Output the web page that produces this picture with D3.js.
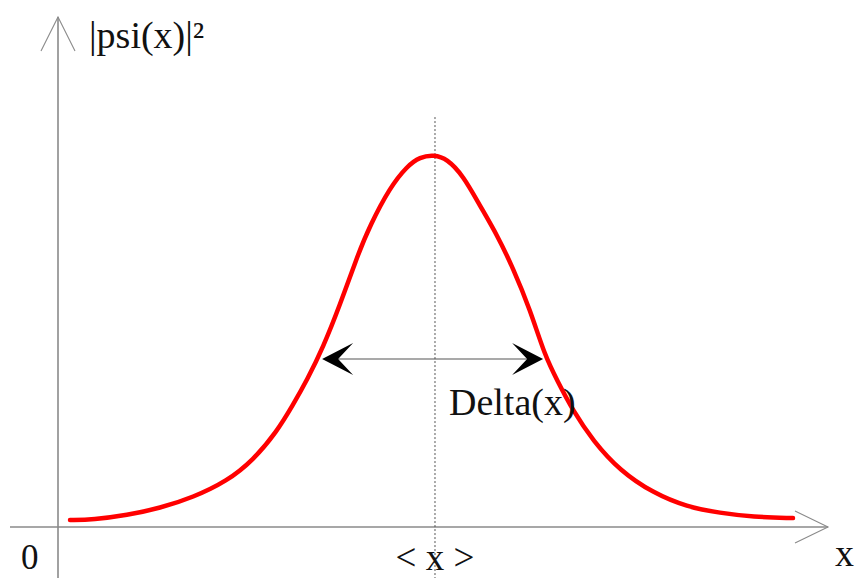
<!DOCTYPE html>
<html>
<head>
<meta charset="utf-8">
<script src="https://cdn.jsdelivr.net/npm/d3@7/dist/d3.min.js"></script>
<style>
  html, body { margin: 0; padding: 0; background: #fff; }
  svg { display: block; }
  text { font-family: "Liberation Serif", "Times New Roman", serif; fill: #111; }
</style>
</head>
<body>
<svg id="chart" width="855" height="578"></svg>
<script>
// ---- Data ----
const curveX = [0.156, 0.455, 0.896, 1.325, 1.753, 2.195, 2.532, 2.844, 3.052, 3.234, 3.442, 3.662, 3.883, 4.052, 4.312, 4.532, 4.700, 4.883, 5.052, 5.260, 5.481, 5.701, 5.909, 6.130, 6.325, 6.481, 6.688, 6.948, 7.299, 7.727, 8.169, 8.597, 9.026, 9.545];
const curveY = [0.019, 0.020, 0.032, 0.051, 0.080, 0.124, 0.180, 0.258, 0.330, 0.397, 0.485, 0.600, 0.730, 0.815, 0.918, 0.975, 1.000, 1.006, 0.995, 0.950, 0.868, 0.790, 0.700, 0.588, 0.462, 0.397, 0.314, 0.233, 0.152, 0.092, 0.054, 0.038, 0.027, 0.024];
const meanX = [4.896];
const meanTop = [1.108];
const deltaY = [0.454];
const deltaRange = [3.43, 6.30];
const labels = { yAxis: "|psi(x)|²", xAxis: "x", origin: "0", mean: "< x >", delta: "Delta(x)" };

// ---- Scales ----
const svg = d3.select("#chart");
const x = d3.scaleLinear().domain([0, 10]).range([58, 828]);
const y = d3.scaleLinear().domain([0, 1]).range([527, 157]);

const axisColor = "#8a8a8a";

// ---- Axes (arrows) ----
svg.append("line").attr("x1", 10).attr("x2", x(10)).attr("y1", y(0)).attr("y2", y(0))
  .attr("stroke", axisColor).attr("stroke-width", 1.6);
svg.append("polyline")
  .attr("points", [[x(10) - 33, y(0) - 16], [x(10), y(0)], [x(10) - 33, y(0) + 16]].join(" "))
  .attr("fill", "none").attr("stroke", axisColor).attr("stroke-width", 1.1);

svg.append("line").attr("x1", x(0)).attr("x2", x(0)).attr("y1", 17).attr("y2", 578)
  .attr("stroke", axisColor).attr("stroke-width", 1.6);
svg.append("polyline")
  .attr("points", [[x(0) - 17, 51], [x(0), 17], [x(0) + 17, 51]].join(" "))
  .attr("fill", "none").attr("stroke", axisColor).attr("stroke-width", 1.1);

// ---- Mean dotted line ----
svg.append("line")
  .attr("x1", x(meanX[0])).attr("x2", x(meanX[0]))
  .attr("y1", y(meanTop[0])).attr("y2", 578)
  .attr("stroke", "#555").attr("stroke-width", 1).attr("stroke-dasharray", "2,2");

// ---- Curve ----
const pts = curveX.map((d, i) => [d, curveY[i]]);
const line = d3.line().x(d => x(d[0])).y(d => y(d[1])).curve(d3.curveBasis);
svg.append("path").attr("d", line(pts))
  .attr("fill", "none").attr("stroke", "#f00").attr("stroke-width", 4.5)
  .attr("stroke-linecap", "round").attr("stroke-linejoin", "round");

// ---- Delta arrow ----
const ay = y(deltaY[0]);
const xl = x(deltaRange[0]), xr = x(deltaRange[1]);
svg.append("line").attr("x1", xl + 10).attr("x2", xr - 10).attr("y1", ay).attr("y2", ay)
  .attr("stroke", "#555").attr("stroke-width", 1.1);
svg.append("path")
  .attr("d", `M${xl},${ay} L${xl + 31},${ay - 16} L${xl + 16},${ay} L${xl + 31},${ay + 16} Z`)
  .attr("fill", "#000");
svg.append("path")
  .attr("d", `M${xr},${ay} L${xr - 31},${ay - 16} L${xr - 16},${ay} L${xr - 31},${ay + 16} Z`)
  .attr("fill", "#000");

// ---- Texts ----
svg.append("text").attr("x", 89).attr("y", 48).attr("font-size", 38).text(labels.yAxis);
svg.append("text").attr("x", 835).attr("y", 566).attr("font-size", 38).text(labels.xAxis);
svg.append("text").attr("x", 21).attr("y", 569).attr("font-size", 35).text(labels.origin);
svg.append("text").attr("x", x(meanX[0])).attr("y", 570).attr("text-anchor", "middle")
  .attr("font-size", 37).attr("xml:space", "preserve").text(labels.mean);
svg.append("text").attr("x", 449).attr("y", 415).attr("font-size", 38).text(labels.delta);
</script>
</body>
</html>
